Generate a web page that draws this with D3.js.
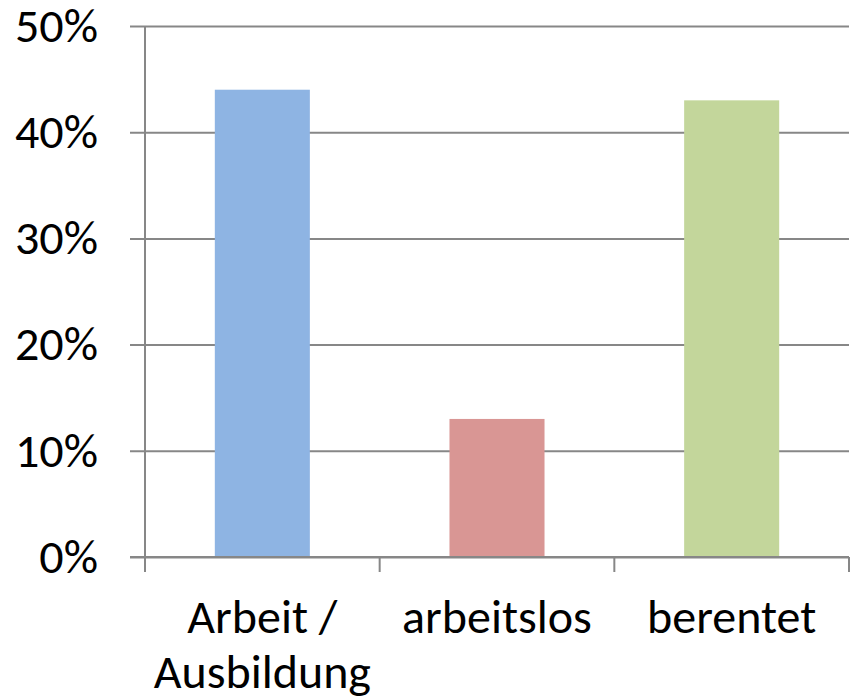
<!DOCTYPE html>
<html>
<head>
<meta charset="utf-8">
<script src="https://cdn.jsdelivr.net/npm/d3@7"></script>
<style>
  html, body { margin: 0; padding: 0; background: #fff; }
  svg { display: block; }
  text { font-family: Carlito, Calibri, Lato, sans-serif; }
</style>
</head>
<body>
<svg id="chart" width="852" height="699"></svg>
<script>
const categories = ["Arbeit / Ausbildung", "arbeitslos", "berentet"];
const labelLines = [["Arbeit /", "Ausbildung"], ["arbeitslos"], ["berentet"]];
const values = [0.44, 0.13, 0.43];
const colors = ["#8EB4E3", "#D99694", "#C3D69B"];
const yTicks = [0, 0.1, 0.2, 0.3, 0.4, 0.5];

(function () {
const svg = d3.select("#chart");
const pLeft = 145, pRight = 849, pTop = 26, pBottom = 557;
const gridColor = "#878787";
const fontSize = 48;

const x = d3.scaleBand().domain(categories).range([pLeft, pRight])
  .paddingInner(0.595).paddingOuter(0.2975);
const y = d3.scaleLinear().domain([0, 0.5]).range([pBottom, pTop]);

// Y axis with gridlines
const yAxis = d3.axisLeft(y).tickValues(yTicks)
  .tickFormat(d3.format(".0%"))
  .tickSize(-(pRight - pLeft)).tickSizeOuter(0).tickPadding(47);
const gy = svg.append("g").attr("transform", `translate(${pLeft},0)`).call(yAxis);
gy.select(".domain").remove();
gy.selectAll(".tick line").attr("x1", -15).attr("stroke", gridColor).attr("stroke-width", 2);
gy.selectAll(".tick text").attr("font-size", fontSize).attr("fill", "#000")
  .attr("font-family", "Carlito, Calibri, Lato, sans-serif");

// vertical axis line
svg.append("line").attr("x1", pLeft).attr("x2", pLeft).attr("y1", pTop).attr("y2", pBottom)
  .attr("stroke", gridColor).attr("stroke-width", 2);

// bars
svg.append("g").selectAll("rect").data(categories).join("rect")
  .attr("x", d => x(d))
  .attr("width", x.bandwidth())
  .attr("y", (d, i) => y(values[i]))
  .attr("height", (d, i) => y(0) - y(values[i]))
  .attr("fill", (d, i) => colors[i]);

// X axis line and tick marks
svg.append("line").attr("x1", pLeft - 15).attr("x2", pRight).attr("y1", pBottom).attr("y2", pBottom)
  .attr("stroke", gridColor).attr("stroke-width", 2);
const step = x.step();
const bounds = d3.range(categories.length + 1).map(i => pLeft + i * step);
svg.append("g").selectAll("line").data(bounds).join("line")
  .attr("x1", d => d).attr("x2", d => d)
  .attr("y1", pBottom).attr("y2", pBottom + 15)
  .attr("stroke", gridColor).attr("stroke-width", 2);

// X labels
const lbl = svg.append("g").selectAll("text").data(categories).join("text")
  .attr("text-anchor", "middle")
  .attr("font-size", fontSize)
  .attr("fill", "#000")
  .attr("x", d => x(d) + x.bandwidth() / 2)
  .attr("y", 633);
lbl.each(function(d, i) {
  const t = d3.select(this);
  labelLines[i].forEach((line, j) => {
    t.append("tspan").attr("x", x(d) + x.bandwidth() / 2)
      .attr("y", 633 + j * 55).text(line);
  });
});
})();
</script>
</body>
</html>
